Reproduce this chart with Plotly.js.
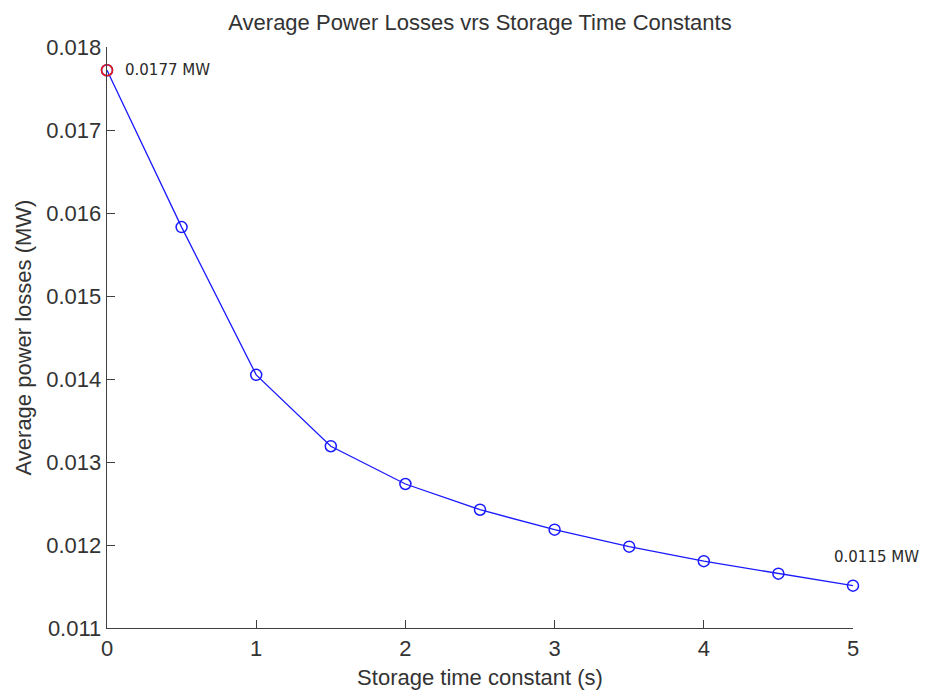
<!DOCTYPE html>
<html>
<head>
<meta charset="utf-8">
<script src="https://cdn.plot.ly/plotly-3.0.1.min.js"></script>
<style>
  html, body { margin: 0; padding: 0; background: #ffffff; }
  #chart { width: 926px; height: 690px; }
</style>
</head>
<body>
<div id="chart"></div>
<script>
// Storage time constant (s)
const timeConstants = [0, 0.5, 1, 1.5, 2, 2.5, 3, 3.5, 4, 4.5, 5];
// Average power losses (MW)
const avgLosses = [0.01772, 0.01583, 0.01405, 0.01319, 0.012735, 0.012425, 0.012185, 0.01198, 0.011805, 0.011655, 0.01151];
const xTicks = [0, 1, 2, 3, 4, 5];
const yTicks = [0.011, 0.012, 0.013, 0.014, 0.015, 0.016, 0.017, 0.018];

const first = 0;
const last = timeConstants.length - 1;

const axisFont = { family: 'Liberation Sans, Arial, sans-serif', size: 22, color: '#333333' };
const tipFont = { family: 'DejaVu Sans, Tahoma, sans-serif', size: 15, color: '#2a2a2a' };

const traces = [
  {
    x: timeConstants,
    y: avgLosses,
    mode: 'lines+markers',
    line: { color: '#1a1aff', width: 1.3 },
    marker: { symbol: 'circle-open', size: 11, color: '#1a1aff', line: { width: 1.5, color: '#1a1aff' } },
    cliponaxis: false,
    hoverinfo: 'x+y'
  },
  {
    // highlighted starting point
    x: [timeConstants[first]],
    y: [avgLosses[first]],
    mode: 'markers',
    marker: { symbol: 'circle-open', size: 11, color: '#e81818', line: { width: 1.6, color: '#e81818' } },
    cliponaxis: false,
    hoverinfo: 'skip'
  }
];

const layout = {
  width: 926,
  height: 690,
  paper_bgcolor: '#ffffff',
  plot_bgcolor: '#ffffff',
  showlegend: false,
  margin: { l: 107, r: 73, t: 47, b: 62 },
  title: {
    text: 'Average Power Losses vrs Storage Time Constants',
    font: { family: 'Liberation Sans, Arial, sans-serif', size: 22, color: '#333333' },
    x: 0.5, xref: 'paper', xanchor: 'center',
    y: 1 - 22 / 690, yref: 'container', yanchor: 'middle'
  },
  xaxis: {
    range: [0, 5],
    tickvals: xTicks,
    ticktext: xTicks.map(String),
    ticks: 'inside', ticklen: 8, tickwidth: 1, tickcolor: '#404040',
    showline: true, linecolor: '#404040', linewidth: 1.3,
    showgrid: false, zeroline: false, mirror: false,
    tickfont: axisFont,
    title: { text: 'Storage time constant (s)', font: axisFont, standoff: 10 }
  },
  yaxis: {
    range: [0.011, 0.018],
    tickvals: yTicks,
    ticktext: yTicks.map(v => v.toFixed(3)),
    ticks: 'inside', ticklen: 8, tickwidth: 1, tickcolor: '#404040',
    showline: true, linecolor: '#404040', linewidth: 1.3,
    showgrid: false, zeroline: false, mirror: false,
    tickfont: axisFont,
    title: { text: 'Average power losses (MW)', font: axisFont, standoff: 8 }
  },
  annotations: [
    {
      x: timeConstants[first], y: avgLosses[first],
      xref: 'x', yref: 'y',
      text: avgLosses[first].toFixed(4) + ' MW',
      showarrow: false, xanchor: 'left', yanchor: 'middle',
      xshift: 16, yshift: 0,
      font: tipFont
    },
    {
      x: timeConstants[last], y: avgLosses[last],
      xref: 'x', yref: 'y',
      text: avgLosses[last].toFixed(4) + ' MW',
      showarrow: false, xanchor: 'left', yanchor: 'middle',
      xshift: -21, yshift: 29,
      font: tipFont
    }
  ]
};

Plotly.newPlot('chart', traces, layout, { displayModeBar: false, staticPlot: true });
</script>
</body>
</html>
